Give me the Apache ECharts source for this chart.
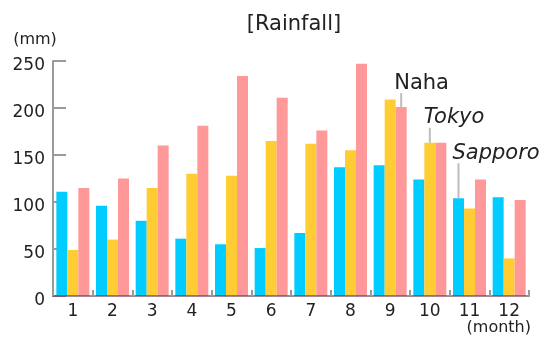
<!DOCTYPE html>
<html>
<head>
<meta charset="utf-8">
<script src="https://cdn.jsdelivr.net/npm/echarts@6/dist/echarts.min.js"></script>
<style>
  html, body { margin: 0; padding: 0; background: #fff; }
  #chart { width: 545px; height: 338px; }
</style>
</head>
<body>
<div id="chart"></div>
<script>
// Monthly rainfall (mm) for three cities
const months = ['1', '2', '3', '4', '5', '6', '7', '8', '9', '10', '11', '12'];
const sapporo = [111, 96, 80, 61, 55, 51, 67, 137, 139, 124, 104, 105];
const tokyo = [49, 60, 115, 130, 128, 165, 162, 155, 209, 163, 93, 40];
const naha = [115, 125, 160, 181, 234, 211, 176, 247, 201, 163, 124, 102];
const yTicks = [0, 50, 100, 150, 200, 250];

const FONT = '"DejaVu Sans", Verdana, sans-serif';
const TEXT = '#222';

// Callout label with a short vertical leader line under the city name
function callout(name, leftShift, gap, lineLen, italic) {
  return {
    show: true,
    position: 'top',
    distance: 0,
    align: 'left',
    offset: [-leftShift, 0],
    formatter: '{t|' + name + '}\n{s| }{l| }',
    rich: {
      t: { fontFamily: FONT, fontSize: 21, color: TEXT, lineHeight: 20,
           fontStyle: italic ? 'italic' : 'normal' },
      s: { width: gap, height: lineLen, lineHeight: lineLen, fontSize: 1 },
      l: { width: 2, height: lineLen, lineHeight: lineLen, fontSize: 1,
           backgroundColor: '#bdbdbd' }
    }
  };
}

function withCallout(values, index, label) {
  return values.map((v, i) => (i === index ? { value: v, label: label } : v));
}

const chart = echarts.init(document.getElementById('chart'), null, { renderer: 'canvas' });

chart.setOption({
  animation: false,
  backgroundColor: '#fff',
  grid: { left: 53, right: 16, top: 61, bottom: 42, containLabel: false },
  xAxis: {
    type: 'category',
    data: months,
    z: 5,
    axisLine: { show: true, lineStyle: { color: 'rgba(100,55,80,0.6)', width: 2 } },
    axisTick: { show: true, inside: true, length: 6, lineStyle: { color: '#9a9a9a', width: 2 } },
    axisLabel: { margin: 7, fontFamily: FONT, fontSize: 17, color: TEXT }
  },
  yAxis: {
    type: 'value',
    min: yTicks[0],
    max: yTicks[yTicks.length - 1],
    interval: yTicks[1] - yTicks[0],
    splitLine: { show: false },
    axisLine: { show: true, lineStyle: { color: '#9a9a9a', width: 2 } },
    axisTick: { show: true, inside: true, length: 13, lineStyle: { color: '#9a9a9a', width: 2 } },
    axisLabel: { margin: 8, fontFamily: FONT, fontSize: 17, color: TEXT,
                 verticalAlign: 'top', lineHeight: 10 }
  },
  series: [
    {
      name: 'Sapporo', type: 'bar', barWidth: 11, barGap: '0%',
      itemStyle: { color: '#00ccff' },
      data: withCallout(sapporo, 10, callout('Sapporo', 6, 5, 35, true))
    },
    {
      name: 'Tokyo', type: 'bar', barWidth: 11, barGap: '0%',
      itemStyle: { color: '#ffcc33' },
      data: withCallout(tokyo, 9, callout('Tokyo', 6, 5, 15, true))
    },
    {
      name: 'Naha', type: 'bar', barWidth: 11, barGap: '0%',
      itemStyle: { color: '#ff9999' },
      data: withCallout(naha, 8, callout('Naha', 7, 6, 14, false))
    }
  ],
  graphic: [
    { type: 'text', x: 294, y: 25,
      style: { text: '[Rainfall]', font: '21px ' + FONT, fill: TEXT,
               textAlign: 'center', textVerticalAlign: 'middle' } },
    { type: 'text', x: 35, y: 40,
      style: { text: '(mm)', font: '16px ' + FONT, fill: TEXT,
               textAlign: 'center', textVerticalAlign: 'middle' } },
    { type: 'text', x: 531, y: 328,
      style: { text: '(month)', font: '16px ' + FONT, fill: TEXT,
               textAlign: 'right', textVerticalAlign: 'middle' } }
  ]
});
</script>
</body>
</html>
